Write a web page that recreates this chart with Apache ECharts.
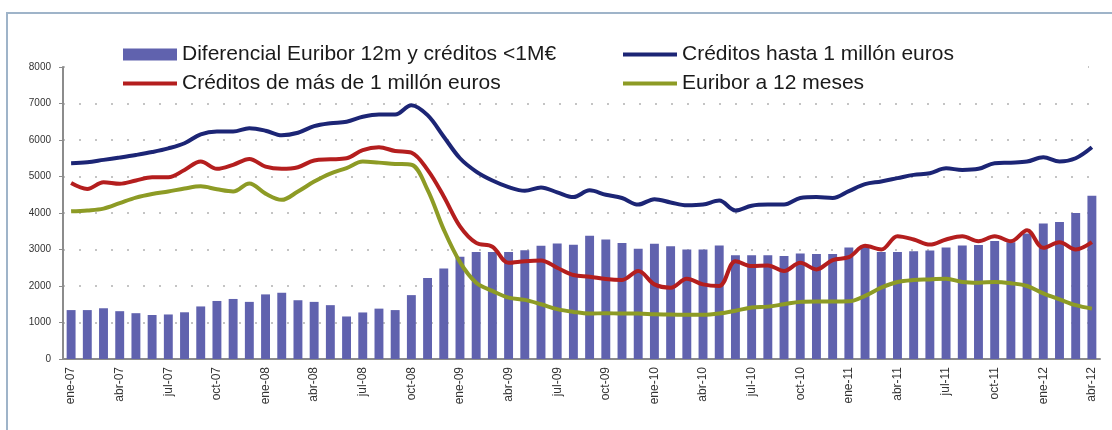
<!DOCTYPE html>
<html>
<head>
<meta charset="utf-8">
<script src="https://cdn.jsdelivr.net/npm/echarts@6/dist/echarts.min.js"></script>
<style>
  html, body { margin: 0; padding: 0; background: #fff; }
  #chart_1 { width: 1112px; height: 430px; }
</style>
</head>
<body>
<div id="chart_1"></div>
<script>
// meses ene-07 .. abr-12
var meses = ['ene','feb','mar','abr','may','jun','jul','ago','sep','oct','nov','dic']
var categorias = []
for (var a = 7; a <= 12; a++) {
    for (var m = 0; m < 12; m++) {
        if (a == 12 && m > 3) break
        categorias.push(meses[m] + '-' + (a < 10 ? '0' + a : a))
    }
}

var nombres = ['Diferencial Euribor 12m y créditos <1M€', 'Créditos hasta 1 millón euros', 'Créditos de más de 1 millón euros', 'Euribor a 12 meses']

// barras
var diferencial = [1340,1340,1390,1310,1255,1205,1220,1280,1440,1590,1645,1565,
    1770,1815,1610,1565,1475,1165,1275,1380,1340,1750,2220,2480,
    2800,2930,2930,2930,2980,3100,3165,3130,3375,3275,3180,3020,
    3155,3090,3000,3000,3110,2840,2840,2840,2820,2890,2875,2875,
    3055,3100,2930,2930,2955,2975,3055,3110,3120,3230,3200,3435,
    3710,3755,4000,4475]

var hasta1M = [5365,5390,5455,5520,5590,5670,5770,5910,6155,6230,6230,6320,
    6255,6130,6200,6380,6460,6500,6635,6700,6700,6955,6680,6090,
    5500,5135,4890,4710,4610,4700,4565,4435,4620,4500,4410,4230,
    4380,4290,4210,4230,4340,4070,4200,4230,4230,4410,4435,4410,
    4600,4790,4865,4955,5045,5090,5225,5180,5210,5365,5380,5410,
    5525,5410,5500,5800]

var mas1M = [4820,4660,4845,4800,4890,4980,4980,5180,5410,5210,5320,5480,
    5270,5210,5255,5440,5470,5500,5725,5800,5700,5655,5180,4455,
    3635,3180,3075,2635,2680,2700,2500,2300,2255,2190,2165,2410,
    2045,1955,2200,2045,2000,2680,2545,2565,2410,2635,2455,2710,
    2790,3100,3000,3365,3275,3135,3275,3365,3225,3365,3225,3525,
    3045,3200,3000,3200]

var euribor = [4045,4070,4120,4270,4420,4520,4590,4670,4730,4650,4590,4810,
    4530,4360,4590,4860,5080,5230,5410,5380,5345,5320,4635,3545,
    2655,2090,1865,1680,1620,1500,1365,1290,1245,1255,1245,1245,
    1225,1220,1210,1210,1245,1320,1410,1435,1500,1565,1575,1575,
    1580,1730,1955,2110,2165,2180,2200,2110,2090,2110,2075,2000,
    1800,1635,1475,1380]

var colores = ['#6062ae', '#1c2575', '#b41e1e', '#8d9b25']

var char1 = echarts.init(document.getElementById('chart_1'))

var legendaBase = {
    orient: 'vertical',
    top: 39,
    itemWidth: 54,
    itemHeight: 12,
    itemGap: 8,
    textStyle: {
        color: '#1a1a1a',
        fontSize: 21,
        lineHeight: 21,
        fontFamily: 'Liberation Sans, Arial, sans-serif'
    }
}

// item de leyenda para las lineas: sin circulo, linea gruesa
function itemLinea(i) {
    return { name: nombres[i], itemStyle: { opacity: 0 }, lineStyle: { width: 4, color: colores[i] } }
}

var option1 = {
    animation: false,
    color: colores,
    textStyle: { fontFamily: 'Liberation Sans, Arial, sans-serif' },
    graphic: [
        // marco
        {
            type: 'rect',
            shape: { x: 7, y: 13, width: 1120, height: 440 },
            style: { fill: 'none', stroke: '#9fb4c9', lineWidth: 2 },
            z: 10
        },
        // fondo de la leyenda
        {
            type: 'rect',
            shape: { x: 78, y: 30, width: 1010, height: 66 },
            style: { fill: '#fff' },
            z: 3
        }
    ],
    legend: [
        Object.assign({}, legendaBase, { left: 116, data: [{ name: nombres[0], icon: 'rect' }, itemLinea(2)] }),
        Object.assign({}, legendaBase, { left: 616, data: [itemLinea(1), itemLinea(3)] })
    ],
    grid: {
        top: 67,
        left: 63,
        right: 12,
        bottom: 71
    },
    xAxis: {
        type: 'category',
        data: categorias,
        axisLine: { lineStyle: { color: '#8c8c8c', width: 2 } },
        axisTick: { interval: 2, length: 4, lineStyle: { color: '#8c8c8c' } },
        axisLabel: {
            interval: 2,
            rotate: 90,
            margin: 8,
            fontSize: 12,
            color: '#333'
        }
    },
    yAxis: {
        type: 'value',
        min: 0,
        max: 8000,
        interval: 1000,
        axisLine: { show: true, lineStyle: { color: '#8c8c8c', width: 2 } },
        axisTick: { show: true, length: 4, lineStyle: { color: '#8c8c8c' } },
        axisLabel: {
            fontSize: 10,
            color: '#333',
            margin: 12,
            formatter: function (v) { return String(v) }
        },
        splitLine: {
            lineStyle: { color: '#c4c4c4', width: 2, type: [2, 14] }
        }
    },
    series: [
        {
            name: nombres[0],
            type: 'bar',
            data: diferencial,
            barWidth: '55%',
            itemStyle: { color: colores[0] }
        },
        {
            name: nombres[1],
            type: 'line',
            data: hasta1M,
            smooth: 0.35,
            symbol: 'none',
            lineStyle: { width: 4, color: colores[1] }
        },
        {
            name: nombres[2],
            type: 'line',
            data: mas1M,
            smooth: 0.35,
            symbol: 'none',
            lineStyle: { width: 4, color: colores[2] }
        },
        {
            name: nombres[3],
            type: 'line',
            data: euribor,
            smooth: 0.35,
            symbol: 'none',
            lineStyle: { width: 4, color: colores[3] }
        }
    ]
}
char1.setOption(option1)
</script>
</body>
</html>
